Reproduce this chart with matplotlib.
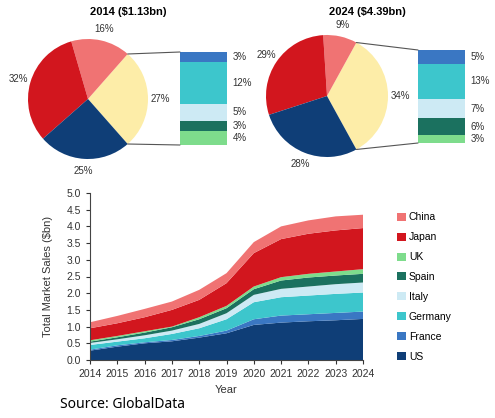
import matplotlib
matplotlib.use('Agg')
import matplotlib.pyplot as plt
from matplotlib.patches import ConnectionPatch
import numpy as np

plt.rcParams['font.family'] = ['Liberation Sans', 'DejaVu Sans']

# pie data: Other (exploded), China, Japan, US
pie_2014 = [27, 16, 32, 25]
pie_2024 = [34, 9, 29, 28]
# breakdown of "other", bottom to top: UK, Spain, Italy, Germany, France
bar_names = ['UK', 'Spain', 'Italy', 'Germany', 'France']
bar_2014 = [4, 3, 5, 12, 3]
bar_2024 = [3, 6, 7, 13, 5]

years = np.arange(2014, 2025)
us      = [0.28, 0.40, 0.50, 0.56, 0.67, 0.80, 1.05, 1.12, 1.16, 1.19, 1.23]
france  = [0.03, 0.04, 0.03, 0.04, 0.05, 0.08, 0.17, 0.21, 0.21, 0.22, 0.22]
germany = [0.14, 0.11, 0.12, 0.18, 0.23, 0.34, 0.51, 0.55, 0.56, 0.57, 0.57]
italy   = [0.06, 0.07, 0.09, 0.10, 0.13, 0.18, 0.22, 0.25, 0.27, 0.29, 0.30]
spain   = [0.04, 0.06, 0.08, 0.10, 0.14, 0.15, 0.17, 0.25, 0.27, 0.26, 0.26]
uk      = [0.04, 0.04, 0.04, 0.02, 0.06, 0.07, 0.08, 0.10, 0.11, 0.12, 0.14]
japan   = [0.36, 0.38, 0.42, 0.50, 0.52, 0.68, 1.00, 1.14, 1.20, 1.23, 1.23]
china   = [0.18, 0.22, 0.25, 0.25, 0.30, 0.30, 0.33, 0.38, 0.40, 0.42, 0.40]

col = {'China': '#F07373', 'Japan': '#D2161E', 'UK': '#7EDC8C', 'Spain': '#1B715F',
       'Italy': '#CDEAF4', 'Germany': '#3DC6CC', 'France': '#3A77C3', 'US': '#0F3E77',
       'Other': '#FDEDA8'}

fig = plt.figure(figsize=(4.95, 4.18), dpi=100)
W, H = 495, 418

def box(x0, y0, x1, y1):
    return [x0 / W, 1 - y1 / H, (x1 - x0) / W, (y1 - y0) / H]

def pie_group(pie_vals, bar_vals, pie_box, bar_box, title, tx):
    axp = fig.add_axes(box(*pie_box))
    start = -pie_vals[0] / 100 * 360 / 2
    wedges, _, autot = axp.pie(pie_vals, colors=[col['Other'], col['China'], col['Japan'], col['US']],
                               startangle=start, autopct=lambda p: f'{p:.0f}%', pctdistance=1.2)
    for t in autot:
        t.set_fontsize(7)
        t.set_color('#333333')
    axp.set_xlim(-1, 1)
    axp.set_ylim(-1, 1)

    axb = fig.add_axes(box(*bar_box))
    bottom = 0
    for name, v in zip(bar_names, bar_vals):
        axb.bar(0, v, bottom=bottom, width=1, color=col[name])
        axb.text(0.62, bottom + v / 2, f'{v}%', fontsize=7, color='#333333', va='center', ha='left')
        bottom += v
    axb.set_xlim(-0.5, 0.5)
    axb.set_ylim(0, sum(bar_vals))
    axb.axis('off')

    th = np.deg2rad(start)
    for ang, yb in [(-th, sum(bar_vals)), (th, 0)]:
        con = ConnectionPatch(xyA=(np.cos(ang), np.sin(ang)), coordsA=axp.transData,
                              xyB=(-0.5, yb), coordsB=axb.transData, color='#555555', lw=0.8)
        fig.add_artist(con)
    fig.text(tx / W, 1 - 12 / H, title, fontsize=8, fontweight='bold', ha='center', va='center')

pie_group(pie_2014, bar_2014, (28, 39, 148, 159), (180, 52, 227, 145), r'2014 (\$1.13bn)', 128)
pie_group(pie_2024, bar_2024, (266, 35, 388, 157), (418, 50, 465, 143), r'2024 (\$4.39bn)', 367)

# stacked area
ax = fig.add_axes(box(90, 193, 363, 360))
names = ['US', 'France', 'Germany', 'Italy', 'Spain', 'UK', 'Japan', 'China']
series = [us, france, germany, italy, spain, uk, japan, china]
ax.stackplot(years, series, colors=[col[n] for n in names], labels=names, lw=0)
ax.set_xlim(2014, 2024)
ax.set_ylim(0, 5)
ax.set_xticks(years)
ax.set_yticks(np.arange(0, 5.01, 0.5))
ax.yaxis.set_major_formatter(matplotlib.ticker.FormatStrFormatter('%.1f'))
ax.tick_params(labelsize=7.5, length=3, width=0.8, colors='#333333')
for s in ['top', 'right']:
    ax.spines[s].set_visible(False)
for s in ['left', 'bottom']:
    ax.spines[s].set_color('#444444')
ax.set_xlabel('Year', fontsize=8, color='#333333', labelpad=4)
ax.set_ylabel(r'Total Market Sales (\$bn)', fontsize=8, color='#333333', labelpad=10)

h, l = ax.get_legend_handles_labels()
fig.legend(h[::-1], l[::-1], loc='upper left', bbox_to_anchor=(388 / W, 1 - 203 / H),
           frameon=False, fontsize=7.5, handlelength=0.8, handleheight=0.8,
           handletextpad=0.3, labelspacing=0.95)

fig.text(60 / W, 1 - 405 / H, 'Source: GlobalData', fontsize=10, va='center', ha='left',
         family=['Noto Sans', 'DejaVu Sans'])

fig.savefig('out.png', dpi=100)
